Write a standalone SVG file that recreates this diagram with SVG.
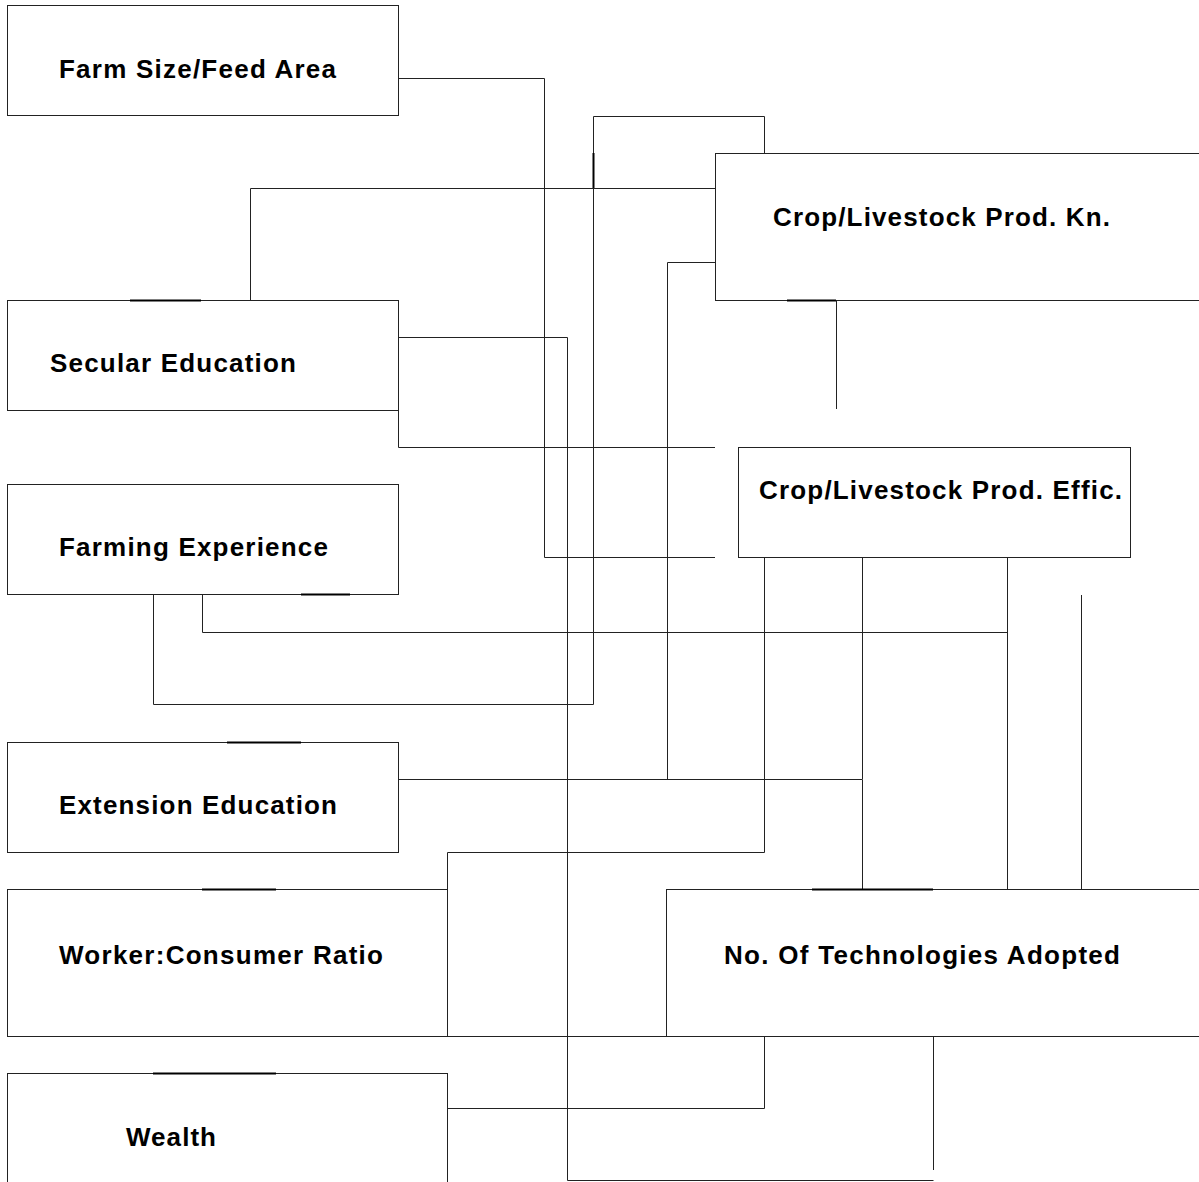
<svg xmlns="http://www.w3.org/2000/svg" width="1199" height="1182" viewBox="0 0 1199 1182">
<style>
.box{fill:#fff;stroke:#222;stroke-width:1}
.c{fill:none;stroke:#222;stroke-width:1}
.t{font-family:"Liberation Sans",Arial,sans-serif;font-weight:bold;font-size:26px;fill:#000}
.k{stroke:#000;stroke-width:2}
</style>
<rect width="1199" height="1182" fill="#fff"/>
<g id="connectors">
<path class="c" d="M398.5,78.5 H544.5 V557.5 H715"/>
<path class="c" d="M250.5,300 V188.5 H715"/>
<path class="c" d="M153.5,594 V704.5 H593.5 V116.5 H764.5 V153"/>
<path class="c" d="M398,779.5 H667.5 V262.5 H715"/>
<path class="c" d="M667,779.5 H862.5 V889"/>
<path class="c" d="M862.5,557 V779"/>
<path class="c" d="M398.5,410 V447.5 H715"/>
<path class="c" d="M398,337.5 H567.5 V1180.5 H933.5"/>
<path class="c" d="M933.5,1036 V1170"/>
<path class="c" d="M202.5,594 V632.5 H1007.5"/>
<path class="c" d="M1007.5,557 V889"/>
<path class="c" d="M1081.5,595 V889"/>
<path class="c" d="M836.5,300 V409"/>
<path class="c" d="M447.5,889 V852.5 H764.5 V557"/>
<path class="c" d="M447,1108.5 H764.5 V1036"/>
<path class="c" d="M447,1036.5 H667"/>
</g>
<g id="farm-size"><rect class="box" x="7.5" y="5.5" width="391" height="110"/><text class="t" x="59" y="78" textLength="277" lengthAdjust="spacing">Farm Size/Feed Area</text></g>
<g id="secular-education"><rect class="box" x="7.5" y="300.5" width="391" height="110"/><text class="t" x="50" y="372" textLength="246" lengthAdjust="spacing">Secular Education</text></g>
<g id="farming-experience"><rect class="box" x="7.5" y="484.5" width="391" height="110"/><text class="t" x="59" y="556" textLength="269" lengthAdjust="spacing">Farming Experience</text></g>
<g id="extension-education"><rect class="box" x="7.5" y="742.5" width="391" height="110"/><text class="t" x="59" y="814" textLength="278" lengthAdjust="spacing">Extension Education</text></g>
<g id="worker-consumer"><rect class="box" x="7.5" y="889.5" width="440" height="147"/><text class="t" x="59" y="964" textLength="324" lengthAdjust="spacing">Worker:Consumer Ratio</text></g>
<g id="wealth"><rect class="box" x="7.5" y="1073.5" width="440" height="130"/><text class="t" x="126" y="1146" textLength="90" lengthAdjust="spacing">Wealth</text></g>
<g id="crop-kn"><rect class="box" x="715.5" y="153.5" width="500" height="147"/><text class="t" x="773" y="226" textLength="337" lengthAdjust="spacing">Crop/Livestock Prod. Kn.</text></g>
<g id="crop-effic"><rect class="box" x="738.5" y="447.5" width="392" height="110"/><text class="t" x="759" y="499" textLength="363" lengthAdjust="spacing">Crop/Livestock Prod. Effic.</text></g>
<g id="technologies"><rect class="box" x="666.5" y="889.5" width="550" height="147"/><text class="t" x="724" y="964" textLength="396" lengthAdjust="spacing">No. Of Technologies Adopted</text></g>
<g id="marks">
<line class="k" x1="130" y1="300.5" x2="201" y2="300.5"/>
<line class="k" x1="301" y1="594.5" x2="350" y2="594.5"/>
<line class="k" x1="227" y1="742.5" x2="301" y2="742.5"/>
<line class="k" x1="202" y1="889.5" x2="276" y2="889.5"/>
<line class="k" x1="153" y1="1073.5" x2="276" y2="1073.5"/>
<line class="k" x1="787" y1="300.5" x2="836" y2="300.5"/>
<line class="k" x1="812" y1="889.5" x2="933" y2="889.5"/>
<line class="k" x1="593.5" y1="153" x2="593.5" y2="188"/>
</g>
</svg>
